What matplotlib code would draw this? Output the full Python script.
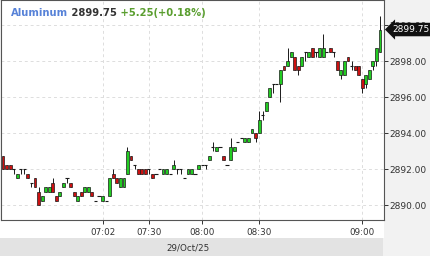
import matplotlib.pyplot as plt
from matplotlib.patches import Rectangle
import numpy as np

opens = [2892.75, 2892.25, 2892.25, 2892.0, 2891.5, 2892.0, 2892.0, 2891.75, 2891.25, 2891.5,
         2890.75, 2890.25, 2890.75, 2890.75, 2891.25, 2890.5, 2890.5, 2891.0, 2891.5, 2891.25,
         2890.75, 2890.25, 2890.75, 2890.75, 2890.75, 2890.75, 2890.25, 2890.5, 2890.25, 2890.25,
         2890.5, 2891.75, 2891.5, 2891.0, 2891.0, 2891.75, 2892.75, 2892.25, 2892.0, 2892.0,
         2892.0, 2892.0, 2891.75, 2891.75, 2892.0, 2891.75, 2891.75, 2891.75, 2892.0, 2892.0,
         2892.0, 2891.5, 2891.75, 2891.75, 2891.75, 2892.0, 2892.25, 2892.25, 2892.5, 2893.25,
         2893.0, 2893.25, 2892.75, 2892.25, 2892.5, 2893.0, 2893.5, 2893.75, 2893.5, 2893.5,
         2894.0, 2894.0, 2894.0, 2895.0, 2895.25, 2896.0, 2896.75, 2896.75, 2896.75, 2897.75,
         2897.75, 2898.25, 2898.25, 2897.75, 2897.75, 2898.5, 2898.25, 2898.75, 2898.5, 2898.25,
         2898.25, 2898.5, 2898.75, 2898.5, 2898.0, 2897.25, 2897.25, 2898.25, 2897.75, 2897.75,
         2897.75, 2897.0, 2896.75, 2897.0, 2897.75, 2898.0, 2898.5]
highs = [2892.75, 2892.25, 2892.25, 2892.0, 2891.75, 2892.0, 2892.0, 2891.75, 2891.25, 2891.5,
         2891.0, 2890.5, 2891.0, 2891.0, 2891.5, 2890.5, 2890.75, 2891.25, 2891.5, 2891.25,
         2890.75, 2890.5, 2890.75, 2891.0, 2891.0, 2890.75, 2890.25, 2890.5, 2890.5, 2890.25,
         2891.5, 2892.0, 2891.5, 2891.5, 2891.5, 2893.25, 2892.75, 2892.25, 2892.0, 2892.0,
         2892.0, 2892.0, 2891.75, 2891.75, 2892.0, 2892.0, 2892.0, 2891.75, 2892.5, 2892.0,
         2892.0, 2891.5, 2892.0, 2892.0, 2891.75, 2892.25, 2892.25, 2892.25, 2892.75, 2893.5,
         2893.25, 2893.25, 2892.75, 2892.25, 2893.75, 2893.25, 2893.5, 2893.75, 2893.75, 2893.75,
         2894.25, 2894.0, 2895.25, 2895.25, 2895.75, 2896.5, 2896.75, 2896.75, 2897.5, 2897.75,
         2898.75, 2898.5, 2898.25, 2897.75, 2898.25, 2898.5, 2898.5, 2898.75, 2898.5, 2898.75,
         2899.5, 2898.5, 2898.75, 2898.5, 2898.0, 2897.5, 2898.0, 2898.25, 2898.0, 2897.75,
         2897.75, 2897.0, 2897.25, 2897.5, 2898.0, 2898.75, 2900.5]
lows = [2892.0, 2892.0, 2892.0, 2891.75, 2891.5, 2891.75, 2891.75, 2891.5, 2891.0, 2891.0,
        2890.0, 2890.25, 2890.75, 2890.75, 2890.75, 2890.25, 2890.5, 2891.0, 2891.25, 2891.0,
        2890.5, 2890.25, 2890.5, 2890.75, 2890.75, 2890.5, 2890.25, 2890.5, 2890.25, 2890.25,
        2890.5, 2891.5, 2891.25, 2891.0, 2891.0, 2891.75, 2892.5, 2892.0, 2891.75, 2891.75,
        2891.75, 2891.75, 2891.5, 2891.75, 2892.0, 2891.75, 2891.75, 2891.75, 2892.0, 2891.75,
        2891.75, 2891.5, 2891.75, 2891.75, 2891.75, 2892.0, 2892.25, 2892.0, 2892.5, 2893.0,
        2893.0, 2893.25, 2892.5, 2892.25, 2892.5, 2893.0, 2893.5, 2893.75, 2893.5, 2893.5,
        2894.0, 2893.5, 2894.0, 2894.75, 2895.25, 2896.0, 2896.25, 2896.75, 2895.75, 2897.5,
        2897.75, 2898.25, 2897.5, 2897.25, 2897.75, 2898.0, 2898.25, 2898.25, 2898.25, 2898.25,
        2898.25, 2898.5, 2898.5, 2898.25, 2897.5, 2897.0, 2897.25, 2898.0, 2897.5, 2897.5,
        2897.25, 2896.25, 2896.5, 2897.0, 2897.5, 2897.75, 2898.5]
closes = [2892.0, 2892.0, 2892.0, 2892.0, 2891.75, 2892.0, 2892.0, 2891.5, 2891.25, 2891.0,
          2890.0, 2890.5, 2891.0, 2891.0, 2890.75, 2890.25, 2890.75, 2891.25, 2891.5, 2891.0,
          2890.5, 2890.5, 2890.5, 2891.0, 2891.0, 2890.5, 2890.25, 2890.5, 2890.5, 2890.25,
          2891.5, 2891.5, 2891.25, 2891.5, 2891.5, 2893.0, 2892.5, 2892.25, 2891.75, 2891.75,
          2891.75, 2892.0, 2891.5, 2891.75, 2892.0, 2892.0, 2892.0, 2891.75, 2892.25, 2892.0,
          2892.0, 2891.5, 2892.0, 2892.0, 2891.75, 2892.25, 2892.25, 2892.25, 2892.75, 2893.25,
          2893.25, 2893.25, 2892.5, 2892.25, 2893.25, 2893.25, 2893.5, 2893.75, 2893.75, 2893.75,
          2894.25, 2893.75, 2894.75, 2895.0, 2895.75, 2896.5, 2896.75, 2896.75, 2897.5, 2897.5,
          2898.0, 2898.5, 2897.5, 2897.5, 2898.25, 2898.5, 2898.5, 2898.25, 2898.5, 2898.75,
          2898.75, 2898.5, 2898.5, 2898.5, 2897.5, 2897.5, 2898.0, 2898.0, 2897.75, 2897.5,
          2897.25, 2896.5, 2897.25, 2897.5, 2898.0, 2898.75, 2899.75]

time_labels = ['07:02', '07:30', '08:00', '08:30', '09:00']
time_bars = [28, 41, 56, 72, 101]
price_ticks = [2890, 2892, 2894, 2896, 2898, 2900]
symbol = 'Aluminum'
last_price = 2899.75
change = '+5.25(+0.18%)'
date_label = '29/Oct/25'

o = np.array(opens)
h = np.array(highs)
l = np.array(lows)
c = np.array(closes)
x = np.arange(len(o))

W, H = 430, 256
fig = plt.figure(figsize=(W / 100, H / 100), dpi=100)
fig.patch.set_facecolor('#f2f2f2')
fig.patches.append(Rectangle((0, 18 / H), 384 / W, 18 / H, transform=fig.transFigure,
                             facecolor='white', edgecolor='none', zorder=-5))
fig.patches.append(Rectangle((0, 0), 383 / W, 18 / H, transform=fig.transFigure,
                             facecolor='#e3e3e3', edgecolor='none', zorder=-5))

ax = fig.add_axes([1 / W, 36 / H, 383 / W, 220 / H])
ax.set_facecolor('white')

# wicks, bodies, dojis
ax.vlines(x, l, h, color='#1a1a1a', lw=0.7, zorder=2)
up = c > o
dn = c < o
flat = c == o
ax.bar(x[up], (c - o)[up], bottom=o[up], width=0.8, color='#22cc22',
       edgecolor='#1a1a1a', lw=0.5, zorder=3)
ax.bar(x[dn], (c - o)[dn], bottom=o[dn], width=0.8, color='#cc1111',
       edgecolor='#1a1a1a', lw=0.5, zorder=3)
ax.hlines(o[flat], x[flat] - 0.45, x[flat] + 0.45, color='#1a1a1a', lw=0.8, zorder=3)

ax.set_xlim(-0.56, len(o) - 1 + 1.12)
ax.set_ylim(2889.17, 2901.39)

ax.set_xticks(time_bars)
ax.set_xticklabels(time_labels)
ax.set_yticks(price_ticks)
ax.set_yticklabels(['%.2f' % p for p in price_ticks])
ax.yaxis.tick_right()
ax.tick_params(axis='y', length=3, width=0.7, pad=1.0, labelsize=6.5, colors='#333333')
ax.tick_params(axis='x', length=3, width=0.7, pad=2.5, labelsize=6.3, colors='#333333')
ax.grid(True, color='#dddddd', lw=0.7, ls=(0, (3, 3)))
ax.set_axisbelow(True)
for s in ax.spines.values():
    s.set_color('#555555')
    s.set_linewidth(0.8)

# last price tag
ax.annotate('%.2f' % last_price, xy=(1, last_price), xycoords=ax.get_yaxis_transform(),
            xytext=(6, 0), textcoords='offset points', ha='left', va='center',
            fontsize=6.5, color='white', annotation_clip=False, zorder=10,
            bbox=dict(boxstyle='larrow,pad=0.25', fc='#111111', ec='none'))

# header
t1 = fig.text(11 / W, 1 - 13 / H, symbol, fontsize=7.2, fontweight='bold',
              color='#5782d8', va='center', ha='left')
t2 = ax.annotate(' %.2f' % last_price, xy=(1, 0), xycoords=t1, va='bottom',
                 fontsize=7.2, fontweight='bold', color='#333333')
ax.annotate(' ' + change, xy=(1, 0), xycoords=t2, va='bottom',
            fontsize=7.2, fontweight='bold', color='#5a9e2f')

fig.text(188 / W, 8 / H, date_label, fontsize=6.3, color='#333333', ha='center', va='center')

fig.savefig('out.png', dpi=100, facecolor=fig.get_facecolor())
